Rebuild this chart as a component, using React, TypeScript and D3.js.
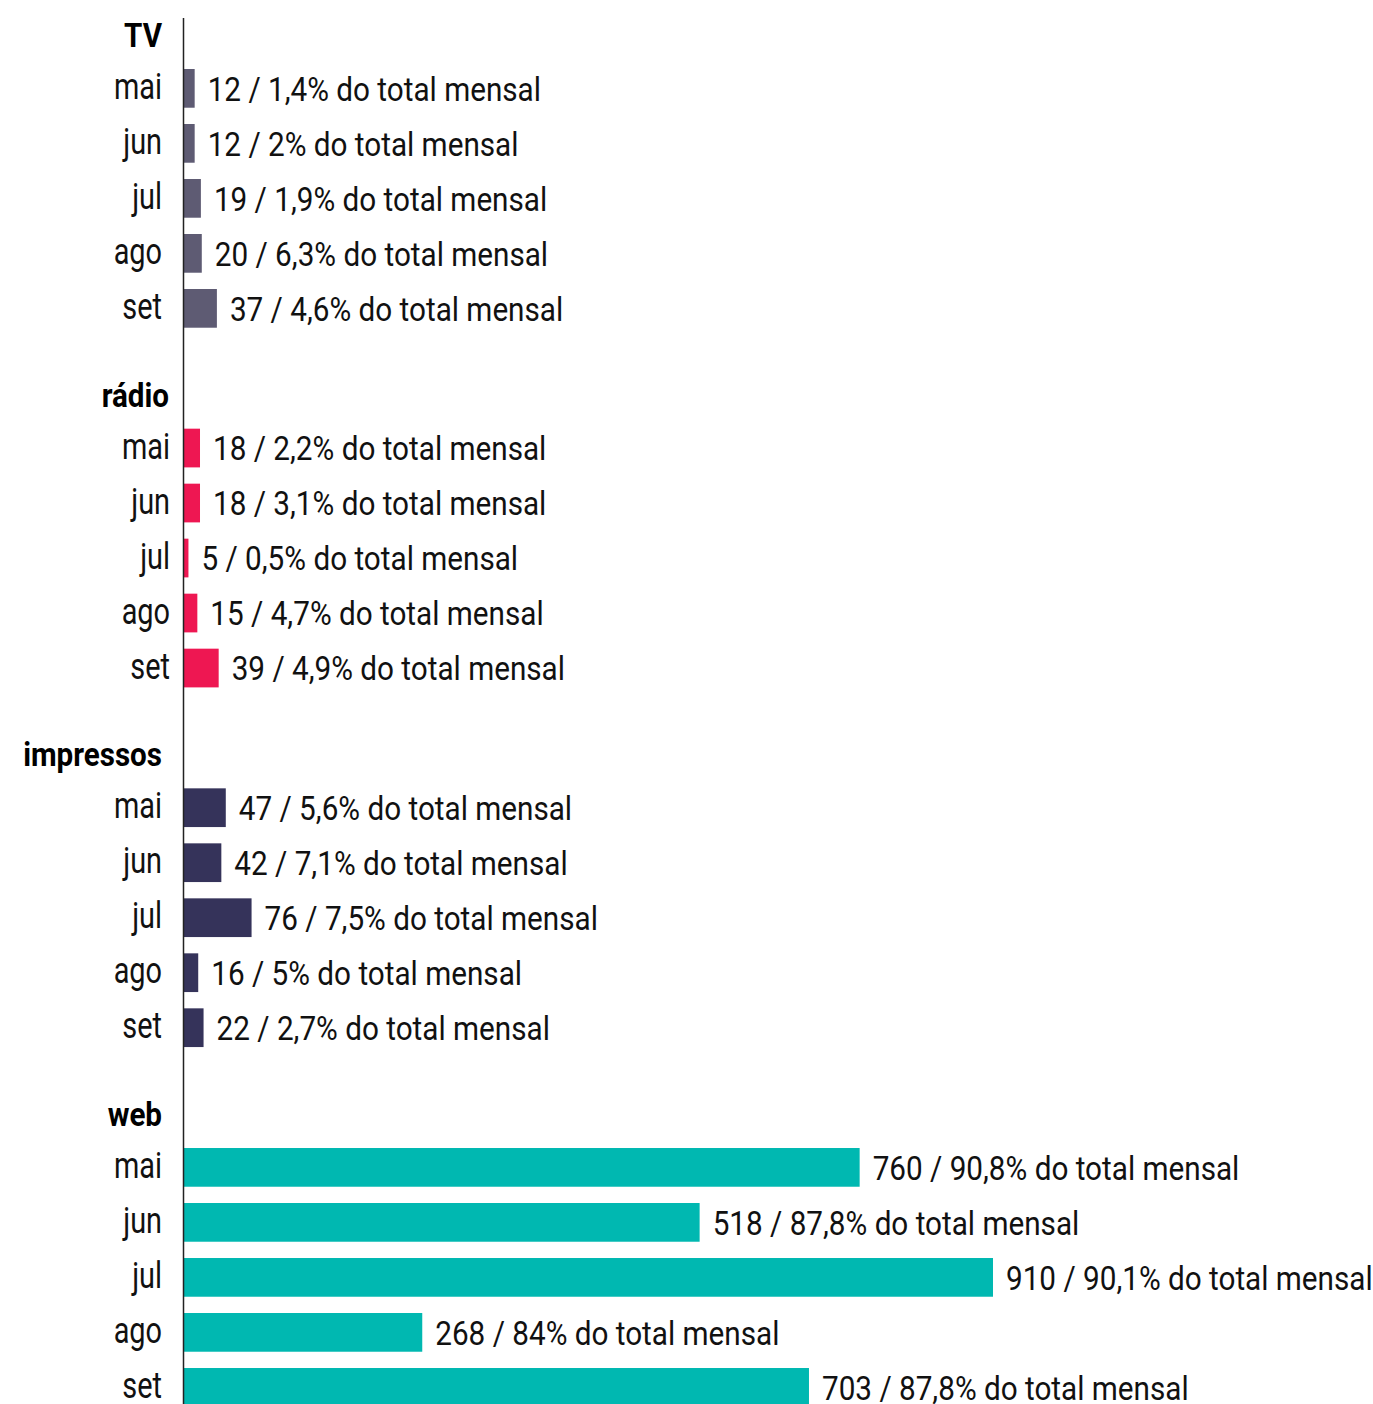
import React from "react";
import * as d3 from "d3";

const groups = ["TV", "rádio", "impressos", "web"];
const months = ["mai", "jun", "jul", "ago", "set"];
const colors = ["#5e5b73", "#ee1752", "#35335a", "#00b8b1"];

// bar lengths as drawn in the picture
const tvBars = [12, 12, 19, 20, 37];
const radioBars = [18, 18, 5, 15, 39];
const impressosBars = [47, 42, 76, 16, 22];
const webBars = [760, 580, 910, 268, 703];

// label counts and percentages
const tvCounts = [12, 12, 19, 20, 37];
const radioCounts = [18, 18, 5, 15, 39];
const impressosCounts = [47, 42, 76, 16, 22];
const webCounts = [760, 518, 910, 268, 703];

const tvPct = ["1,4", "2", "1,9", "6,3", "4,6"];
const radioPct = ["2,2", "3,1", "0,5", "4,7", "4,9"];
const impressosPct = ["5,6", "7,1", "7,5", "5", "2,7"];
const webPct = ["90,8", "87,8", "90,1", "84", "87,8"];

const bars = [tvBars, radioBars, impressosBars, webBars];
const counts = [tvCounts, radioCounts, impressosCounts, webCounts];
const pcts = [tvPct, radioPct, impressosPct, webPct];

const W = 1373;
const H = 1404;
const axisX = 184;
const labelRight = [162, 170, 162, 162];
const headerRight = [162, 169, 162, 162];

export default function App() {
  const x = d3.scaleLinear().domain([0, 910]).range([axisX, 993]);
  const y = d3
    .scaleBand<string>()
    .domain(months)
    .range([0, 275])
    .paddingInner(0.296)
    .paddingOuter(0.148);
  const gy = d3
    .scaleLinear()
    .domain([0, 3])
    .range([60.86, 60.86 + 3 * 359.67]);
  const bw = y.bandwidth();
  const step = y.step();

  return (
    <svg
      width={W}
      height={H}
      style={{ position: "absolute", left: 0, top: 0, background: "#fff" }}
      fontFamily="Roboto, sans-serif"
    >
      {groups.map((g, gi) => {
        const oy = gy(gi);
        return (
          <g key={g}>
            <text
              transform={`translate(${headerRight[gi]},${oy - step / 2 + 13.5}) scale(0.87,1)`}
              textAnchor="end"
              fontWeight={700}
              fontSize={34}
              fill="#000"
            >
              {g}
            </text>
            {months.map((m, mi) => {
              const top = oy + (y(m) as number);
              const cy = top + bw / 2;
              const x1 = x(bars[gi][mi]);
              return (
                <g key={m}>
                  <rect
                    x={axisX}
                    y={top}
                    width={x1 - axisX}
                    height={bw}
                    fill={colors[gi]}
                  />
                  <text
                    transform={`translate(${labelRight[gi]},${cy + 10.5}) scale(0.78,1)`}
                    textAnchor="end"
                    fontSize={37}
                    fill="#111"
                  >
                    {m}
                  </text>
                  <text
                    transform={`translate(${x1 + 13},${cy + 12.3}) scale(0.9,1)`}
                    fontSize={33}
                    fill="#111"
                  >
                    {`${counts[gi][mi]} / ${pcts[gi][mi]}% do total mensal`}
                  </text>
                </g>
              );
            })}
          </g>
        );
      })}
      <line
        x1={axisX - 0.5}
        x2={axisX - 0.5}
        y1={18}
        y2={H + 20}
        stroke="#222"
        strokeWidth={1.5}
      />
    </svg>
  );
}
